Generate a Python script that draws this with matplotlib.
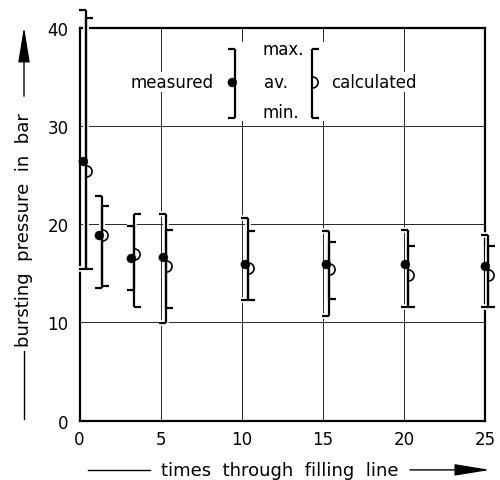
import matplotlib
matplotlib.use("Agg")
import matplotlib.pyplot as plt
from matplotlib.path import Path
from matplotlib.patches import Rectangle
from matplotlib.lines import Line2D

# times through filling line (groups sit slightly right of the nominal count)
passes = [0.37, 1.37, 3.36, 5.35, 10.38, 15.36, 20.26, 25.2]

# bursting pressure in bar, measured
meas_max = [41.8, 22.9, 19.8, 21.05, 20.6, 19.35, 19.45, 18.9]
meas_avg = [26.4, 18.9, 16.6, 16.7, 16.0, 15.9, 16.0, 15.7]
meas_min = [15.4, 13.5, 13.25, 9.95, 12.3, 10.6, 11.55, 11.55]

# bursting pressure in bar, calculated
calc_max = [41.0, 21.9, 21.05, 19.4, 19.3, 18.15, 17.8, 17.8]
calc_avg = [25.4, 18.9, 17.0, 15.7, 15.5, 15.4, 14.8, 14.85]
calc_min = [15.4, 13.7, 11.55, 11.45, 12.3, 12.35, 11.55, 11.55]

x_ticks = [0, 5, 10, 15, 20, 25]
y_ticks = [0, 10, 20, 30, 40]

plt.rcParams["font.family"] = "DejaVu Sans"

fig = plt.figure(figsize=(5.0, 4.81), dpi=100)
ax = fig.add_axes([0.159, 0.1237, 0.811, 0.816])
ax.set_xlim(0, 25)
ax.set_ylim(0, 40)
ax.set_xticks(x_ticks)
ax.set_yticks(y_ticks)
ax.tick_params(length=0, labelsize=12)
ax.tick_params(axis="y", pad=8)
ax.tick_params(axis="x", pad=7)
ax.grid(True, color="0.15", linewidth=0.7)
ax.set_axisbelow(True)
for s in ax.spines.values():
    s.set_linewidth(1.6)

tick_left = Path([(-1, 0), (0, 0)])
tick_right = Path([(0, 0), (1, 0)])
disc = Path.circle(center=(-0.7, 0), radius=1)  # sits left of the line
half_ring = Path.arc(-90, 90)

LW = 1.6
TICK = 10


def bracket(x, lo, hi, tick):
    # white halo first, then the black bracket on top
    for col, lw, z in (("white", 4, 2.6), ("black", LW, 3.0)):
        ax.vlines(x, lo, hi, colors=col, linewidth=lw, zorder=z, clip_on=False)
        for ends in (lo, hi):
            ax.plot(x, ends, ls="none", marker=tick, ms=TICK, mew=lw,
                    color=col, zorder=z, clip_on=False)


def averages(x, meas, calc):
    ax.plot(x, meas, ls="none", marker=disc, ms=11, mew=0.3,
            mfc="black", mec="black", zorder=4, clip_on=False)
    ax.plot(x, calc, ls="none", marker=half_ring, ms=8, mew=1.2,
            mfc="none", mec="black", zorder=4, clip_on=False)


bracket(passes, meas_min, meas_max, tick_left)
bracket(passes, calc_min, calc_max, tick_right)
averages(passes, meas_avg, calc_avg)

# legend drawn inside the plot
ax.add_patch(Rectangle((9.7, 30.5), 5.4, 8.1, facecolor="white",
                       edgecolor="none", zorder=1))
bracket([9.6], [30.85], [37.85], tick_left)
bracket([14.35], [30.85], [37.85], tick_right)
averages([9.6, 14.35], [34.5, None], [None, 34.5])
ax.text(8.25, 34.5, "measured", ha="right", va="center", fontsize=12,
        zorder=5, bbox=dict(facecolor="white", edgecolor="none", pad=1))
ax.text(15.5, 34.5, "calculated", ha="left", va="center", fontsize=12,
        zorder=5, bbox=dict(facecolor="white", edgecolor="none", pad=1))
ax.text(11.27, 37.9, "max.", ha="left", va="center", fontsize=12, zorder=5)
ax.text(11.35, 34.45, "av.", ha="left", va="center", fontsize=12, zorder=5)
ax.text(11.27, 31.4, "min.", ha="left", va="center", fontsize=12, zorder=5)

# axis titles with the arrow lines of the original drawing
fig.text(0.56, 0.021, "times  through  filling  line", ha="center",
         va="center", fontsize=13)
fig.add_artist(Line2D([0.176, 0.30], [0.021, 0.021], color="black", lw=1))
ax.annotate("", xy=(0.98, 0.021), xytext=(0.82, 0.021),
            xycoords="figure fraction", textcoords="figure fraction",
            arrowprops=dict(arrowstyle="-|>,head_length=2.2,head_width=0.36",
                            color="black", lw=1, shrinkA=0, shrinkB=0))

fig.text(0.048, 0.522, "bursting  pressure  in  bar", ha="center",
         va="center", rotation=90, fontsize=13)
fig.add_artist(Line2D([0.048, 0.048], [0.127, 0.268], color="black", lw=1))
ax.annotate("", xy=(0.048, 0.942), xytext=(0.048, 0.798),
            xycoords="figure fraction", textcoords="figure fraction",
            arrowprops=dict(arrowstyle="-|>,head_length=2.2,head_width=0.36",
                            color="black", lw=1, shrinkA=0, shrinkB=0))

fig.savefig("out.png", dpi=100)
